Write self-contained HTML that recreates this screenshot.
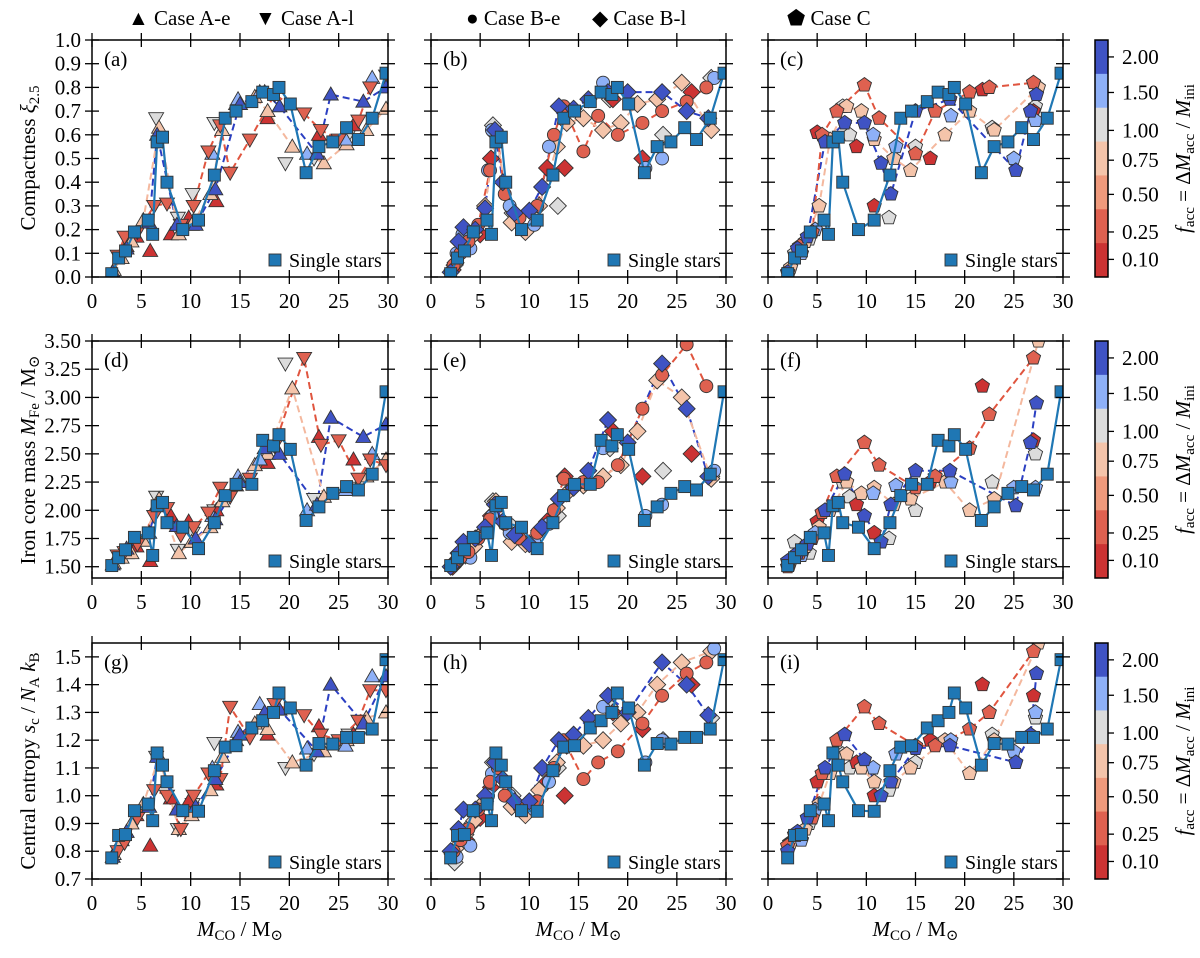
<!DOCTYPE html>
<html><head><meta charset="utf-8">
<style>
html,body{margin:0;padding:0;background:#fff;}
svg, svg text{font-family:"Liberation Serif","Times New Roman","DejaVu Serif",serif;}
</style></head>
<body>
<svg id="fig" width="1200" height="953" viewBox="0 0 1200 953" xmlns="http://www.w3.org/2000/svg" font-family="Liberation Serif, serif">
<g id="root" font-family="Liberation Serif, serif"></g>
</svg>
<script>
// ---------- data ----------
const singleX = [2.0,2.7,3.4,4.3,5.7,6.15,6.6,7.15,7.6,9.2,10.8,12.4,13.5,14.6,16.2,17.3,18.4,18.95,20.1,21.7,23.0,24.4,25.8,27.0,28.4,29.8];
const singleXi = [0.014,0.08,0.11,0.19,0.24,0.18,0.57,0.59,0.40,0.20,0.24,0.43,0.67,0.70,0.74,0.78,0.77,0.80,0.73,0.44,0.55,0.57,0.63,0.58,0.67,0.86];
const singleFe = [1.51,1.58,1.65,1.76,1.80,1.60,2.04,2.07,1.89,1.85,1.66,1.89,2.13,2.23,2.23,2.62,2.57,2.67,2.54,1.91,2.03,2.15,2.21,2.18,2.32,3.05];
const singleS = [0.776,0.857,0.86,0.946,0.97,0.91,1.154,1.11,1.05,0.946,0.944,1.09,1.175,1.18,1.244,1.27,1.30,1.37,1.316,1.11,1.188,1.186,1.21,1.21,1.24,1.49];

// Column A (triangles)
const aBlueX = [2.1,3.5,5.8,6.6,8.6,10.5,12.5,15.0,17.5,19.0,22.8,24.2,27.5,29.8];
const aBlueXi = [0.02,0.12,0.23,0.60,0.22,0.22,0.37,0.73,0.78,0.72,0.52,0.77,0.74,0.80];
const aBlueFe = [1.52,1.66,1.80,2.05,1.86,1.75,1.92,2.25,2.55,2.50,2.05,2.82,2.65,2.76];
const aBlueS = [0.78,0.87,0.96,1.14,0.95,0.96,1.06,1.22,1.30,1.31,1.16,1.40,1.26,1.43];
const aRedX = [2.6,3.3,4.6,6.3,7.6,9.0,10.3,11.8,13.0,14.0,16.0,18.5,21.5,23.2,25.0,27.0,28.2,29.8];
const aRedXi = [0.09,0.17,0.19,0.30,0.31,0.22,0.30,0.53,0.64,0.44,0.58,0.77,0.69,0.62,0.58,0.66,0.80,0.85];
const aRedFe = [1.60,1.63,1.70,1.95,2.02,1.78,1.85,1.98,2.20,2.12,2.28,2.57,3.35,2.58,2.62,2.28,2.45,2.40];
const aRedS = [0.80,0.83,0.92,1.02,1.00,0.88,1.00,1.08,1.06,1.32,1.21,1.33,1.29,1.22,1.20,1.27,1.38,1.38];
const aPeachX = [2.2,3.0,4.0,5.2,6.8,8.8,10.1,12.0,13.2,14.6,16.5,17.8,20.3,23.5,25.8,27.8,29.8];
const aPeachXi = [0.03,0.08,0.15,0.24,0.63,0.18,0.22,0.35,0.62,0.73,0.76,0.70,0.55,0.48,0.56,0.62,0.71];
const aPeachFe = [1.53,1.58,1.62,1.73,2.10,1.62,1.72,1.85,2.08,2.22,2.40,2.50,3.08,2.12,2.18,2.30,2.45];
const aPeachS = [0.79,0.84,0.90,0.97,1.14,0.88,0.93,1.02,1.14,1.20,1.26,1.24,1.12,1.16,1.20,1.28,1.30];
const aGrayX = [6.5,8.7,10.2,12.4,19.6,22.5,26.0];
const aGrayXi = [0.67,0.25,0.35,0.65,0.48,0.50,0.60];
const aGrayFe = [2.12,1.65,1.80,2.00,3.30,2.10,2.20];
const aGrayS = [1.14,0.88,0.97,1.19,1.10,1.15,1.22];
const aDredX = [3.5,4.5,5.9,8.0,9.8,12.6,17.8,23.0,26.5];
const aDredXi = [0.13,0.17,0.11,0.18,0.25,0.32,0.67,0.60,0.64];
const aDredFe = [1.62,1.68,1.55,1.95,1.90,2.00,2.42,2.65,2.45];
const aDredS = [0.87,0.93,0.82,0.99,0.98,1.04,1.22,1.25,1.22];
const aLblueX = [12.2,14.8,17.0,21.8,25.7,28.4];
const aLblueXi = [0.52,0.75,0.78,0.52,0.58,0.84];
const aLblueFe = [1.95,2.30,2.45,2.00,2.18,2.50];
const aLblueS = [1.10,1.23,1.33,1.17,1.18,1.43];

// Column B (circles, diamonds)
const bBlueX = [2.0,2.8,3.3,4.5,5.5,6.5,7.3,8.5,10.0,11.3,13.0,14.5,16.0,18.0,20.0,23.5,26.0,28.2];
const bBlueXi = [0.02,0.15,0.21,0.20,0.29,0.62,0.40,0.27,0.28,0.38,0.72,0.71,0.75,0.78,0.78,0.78,0.70,0.67];
const bBlueFe = [1.50,1.62,1.72,1.75,1.85,2.05,1.90,1.78,1.70,1.85,2.10,2.20,2.35,2.80,2.60,3.30,2.90,2.30];
const bBlueS = [0.80,0.88,0.95,0.95,1.00,1.12,1.06,0.98,0.98,1.10,1.20,1.22,1.28,1.36,1.30,1.48,1.40,1.29];
const bRedX = [2.3,3.0,3.8,4.8,6.0,6.8,7.5,9.0,10.8,12.5,13.5,15.5,17.0,19.0,21.5,23.5,26.0,28.0];
const bRedXi = [0.05,0.10,0.15,0.22,0.45,0.58,0.35,0.25,0.30,0.60,0.72,0.53,0.68,0.60,0.65,0.70,0.74,0.80];
const bRedFe = [1.52,1.58,1.63,1.75,1.92,2.05,1.88,1.75,1.80,2.00,2.28,2.25,2.25,2.40,2.90,3.20,3.47,3.10];
const bRedS = [0.80,0.84,0.88,0.95,1.05,1.10,1.00,0.96,0.98,1.10,1.20,1.06,1.12,1.16,1.26,1.36,1.44,1.48];
const bPeachX = [2.5,3.5,4.4,5.5,6.6,8.2,9.6,11.0,12.8,13.8,15.5,17.5,19.3,21.0,23.0,25.5,28.5];
const bPeachXi = [0.06,0.12,0.18,0.30,0.60,0.23,0.19,0.30,0.55,0.65,0.67,0.62,0.65,0.73,0.75,0.82,0.62];
const bPeachFe = [1.55,1.60,1.68,1.82,2.08,1.72,1.70,1.82,2.02,2.15,2.22,2.30,2.40,2.70,3.15,3.00,2.28];
const bPeachS = [0.81,0.86,0.91,0.98,1.12,0.96,0.93,1.02,1.12,1.18,1.18,1.20,1.26,1.30,1.40,1.48,1.52];
const bLblueX = [2.6,3.2,4.0,5.8,6.2,8.0,10.5,12.0,17.5,21.8,23.5,28.8];
const bLblueXi = [0.10,0.18,0.12,0.45,0.62,0.30,0.22,0.55,0.82,0.46,0.50,0.84];
const bLblueFe = [1.55,1.62,1.58,1.85,1.95,1.80,1.72,1.88,2.55,1.95,2.05,2.35];
const bLblueS = [0.78,0.86,0.82,1.00,1.08,1.00,0.95,1.05,1.32,1.12,1.20,1.53];
const bDredX = [2.2,3.6,5.0,6.1,11.8,13.6,18.5,21.5,26.5];
const bDredXi = [0.03,0.15,0.18,0.50,0.46,0.46,0.75,0.50,0.78];
const bDredFe = [1.50,1.62,1.78,1.95,1.90,2.30,2.70,2.30,2.50];
const bDredS = [0.79,0.84,0.92,1.03,1.05,1.00,1.30,1.24,1.40];
const bGrayX = [2.4,4.2,6.3,8.3,12.9,18.2,23.6,28.5];
const bGrayXi = [0.05,0.18,0.64,0.27,0.30,0.75,0.60,0.84];
const bGrayFe = [1.52,1.66,2.08,1.85,1.95,2.55,2.35,2.30];
const bGrayS = [0.76,0.90,1.12,1.00,1.10,1.32,1.20,1.28];

// Column C (pentagons)
const cBlueX = [2.0,3.0,4.0,5.8,7.8,9.8,11.5,12.5,15.0,18.5,25.2,26.7,27.3];
const cBlueXi = [0.02,0.12,0.17,0.57,0.65,0.65,0.48,0.35,0.70,0.75,0.45,0.70,0.77];
const cBlueFe = [1.55,1.62,1.70,2.00,2.32,1.95,1.72,2.05,2.35,2.35,2.04,2.60,2.95];
const cBlueS = [0.80,0.87,0.92,1.10,1.22,1.13,1.00,1.05,1.17,1.18,1.12,1.22,1.44];
const cRedX = [2.0,3.2,4.5,5.5,7.0,9.8,11.3,15.0,17.0,20.5,22.5,27.0];
const cRedXi = [0.02,0.13,0.19,0.60,0.70,0.81,0.67,0.52,0.70,0.78,0.80,0.82];
const cRedFe = [1.50,1.62,1.75,1.98,2.30,2.60,2.40,2.20,2.30,2.55,2.85,3.35];
const cRedS = [0.82,0.86,0.92,1.08,1.20,1.32,1.26,1.18,1.18,1.24,1.30,1.52];
const cPeachX = [2.3,3.8,5.2,6.3,8.0,9.5,10.8,12.8,14.5,18.0,20.5,23.0,27.5];
const cPeachXi = [0.04,0.15,0.30,0.58,0.72,0.70,0.58,0.50,0.45,0.60,0.70,0.62,0.80];
const cPeachFe = [1.55,1.68,1.85,2.00,2.25,2.15,2.20,2.05,2.10,2.25,2.00,2.10,3.50];
const cPeachS = [0.83,0.88,0.97,1.08,1.15,1.10,1.05,1.05,1.10,1.20,1.08,1.20,1.55];
const cGrayX = [2.7,4.2,7.6,8.3,12.3,15.0,22.8,27.2];
const cGrayXi = [0.10,0.16,0.72,0.60,0.25,0.55,0.63,0.72];
const cGrayFe = [1.72,1.62,2.25,2.12,1.75,2.00,2.25,2.50];
const cGrayS = [0.86,0.90,1.15,1.10,1.02,1.12,1.22,1.28];
const cLblueX = [3.4,4.8,10.7,13.0,18.6,25.0,27.2];
const cLblueXi = [0.10,0.20,0.60,0.55,0.68,0.50,0.66];
const cLblueFe = [1.60,1.80,2.15,2.22,2.25,2.20,2.20];
const cLblueS = [0.84,0.95,1.10,1.15,1.20,1.16,1.30];
const cDredX = [2.2,5.0,9.0,10.8,16.5,21.8,27.0];
const cDredXi = [0.03,0.61,0.55,0.30,0.50,0.79,0.70];
const cDredFe = [1.52,1.90,2.05,1.80,2.25,3.10,2.62];
const cDredS = [0.83,1.05,1.12,1.00,1.20,1.40,1.36];

const xTicks = [0,5,10,15,20,25,30];
const xiTicks = ["0.0","0.1","0.2","0.3","0.4","0.5","0.6","0.7","0.8","0.9","1.0"];
const feTicks = ["1.50","1.75","2.00","2.25","2.50","2.75","3.00","3.25","3.50"];
const sTicks = ["0.7","0.8","0.9","1.0","1.1","1.2","1.3","1.4","1.5"];
const cbLabels = ["2.00","1.50","1.00","0.75","0.50","0.25","0.10"];
const cbColors = ["#3f53c4","#8eb0f7","#dcdcdc","#f4c4aa","#ef9a7c","#df6150","#cc3333"];

// ---------- drawing ----------
const NS="http://www.w3.org/2000/svg";
const root=document.getElementById('root');
const FF="Liberation Serif, Times New Roman, serif";
function mk(tag,attrs,parent){const e=document.createElementNS(NS,tag);for(const k in attrs)e.setAttribute(k,attrs[k]);if(tag==='text')e.setAttribute('font-family',FF);(parent||root).appendChild(e);return e;}
const C={blue:"#3f53c4",lblue:"#8eb0f7",gray:"#dcdcdc",peach:"#f4c4aa",salmon:"#ef9a7c",red:"#df6150",dred:"#cc3333"};
const LINE={blue:"#2b3fc2",red:"#e0553f",peach:"#f4b89e"};
const colX=[[92,388],[431,726],[768,1063]];
const rowY=[[40,277],[341,578],[643,879]];
const yLims=[[0,1.0],[1.4,3.5],[0.7,1.55]];
const xLim=[0,30];

function marker(g,shape,cx,cy,fill){
  let e;
  if(shape==='sq'){e=mk('rect',{x:cx-6,y:cy-6,width:12,height:12},g);}
  else if(shape==='up'){e=mk('polygon',{points:`${cx},${cy-7.5} ${cx+7.5},${cy+5.5} ${cx-7.5},${cy+5.5}`},g);}
  else if(shape==='dn'){e=mk('polygon',{points:`${cx},${cy+7.5} ${cx+7.5},${cy-5.5} ${cx-7.5},${cy-5.5}`},g);}
  else if(shape==='ci'){e=mk('circle',{cx:cx,cy:cy,r:6.5},g);}
  else if(shape==='di'){e=mk('polygon',{points:`${cx},${cy-8.5} ${cx+8.5},${cy} ${cx},${cy+8.5} ${cx-8.5},${cy}`},g);}
  else {let p=[];for(let i=0;i<5;i++){const a=-Math.PI/2+i*2*Math.PI/5;p.push((cx+7.5*Math.cos(a)).toFixed(1)+','+(cy+7.5*Math.sin(a)).toFixed(1));}e=mk('polygon',{points:p.join(' ')},g);}
  e.setAttribute('fill',fill);e.setAttribute('stroke','#333');e.setAttribute('stroke-width','0.9');
  
  
}

const panels=[
 {letter:'a',c:0,r:0,ys:'Xi',pre:'a',shapes:{Blue:'up',Red:'dn',Peach:'up',Gray:'dn',Dred:'up',Lblue:'up'}},
 {letter:'b',c:1,r:0,ys:'Xi',pre:'b',shapes:{Blue:'di',Red:'ci',Peach:'di',Gray:'di',Dred:'di',Lblue:'ci'}},
 {letter:'c',c:2,r:0,ys:'Xi',pre:'c'},
 {letter:'d',c:0,r:1,ys:'Fe',pre:'a',shapes:{Blue:'up',Red:'dn',Peach:'up',Gray:'dn',Dred:'up',Lblue:'up'}},
 {letter:'e',c:1,r:1,ys:'Fe',pre:'b',shapes:{Blue:'di',Red:'ci',Peach:'di',Gray:'di',Dred:'di',Lblue:'ci'}},
 {letter:'f',c:2,r:1,ys:'Fe',pre:'c'},
 {letter:'g',c:0,r:2,ys:'S',pre:'a',shapes:{Blue:'up',Red:'dn',Peach:'up',Gray:'dn',Dred:'up',Lblue:'up'}},
 {letter:'h',c:1,r:2,ys:'S',pre:'b',shapes:{Blue:'di',Red:'ci',Peach:'di',Gray:'di',Dred:'di',Lblue:'ci'}},
 {letter:'i',c:2,r:2,ys:'S',pre:'c'}
];
const DATA={
 aBlueX,aBlueXi,aBlueFe,aBlueS,aRedX,aRedXi,aRedFe,aRedS,aPeachX,aPeachXi,aPeachFe,aPeachS,aGrayX,aGrayXi,aGrayFe,aGrayS,aDredX,aDredXi,aDredFe,aDredS,aLblueX,aLblueXi,aLblueFe,aLblueS,
 bBlueX,bBlueXi,bBlueFe,bBlueS,bRedX,bRedXi,bRedFe,bRedS,bPeachX,bPeachXi,bPeachFe,bPeachS,bGrayX,bGrayXi,bGrayFe,bGrayS,bDredX,bDredXi,bDredFe,bDredS,bLblueX,bLblueXi,bLblueFe,bLblueS,
 cBlueX,cBlueXi,cBlueFe,cBlueS,cRedX,cRedXi,cRedFe,cRedS,cPeachX,cPeachXi,cPeachFe,cPeachS,cGrayX,cGrayXi,cGrayFe,cGrayS,cDredX,cDredXi,cDredFe,cDredS,cLblueX,cLblueXi,cLblueFe,cLblueS};
const SING={Xi:singleXi,Fe:singleFe,S:singleS};
const tickSets=[xiTicks,feTicks,sTicks];

panels.forEach(p=>{
  const [x0,x1]=colX[p.c],[y0,y1]=rowY[p.r],[ylo,yhi]=yLims[p.r];
  const sx=v=>x0+(v-xLim[0])/(xLim[1]-xLim[0])*(x1-x0);
  const sy=v=>y1-(v-ylo)/(yhi-ylo)*(y1-y0);
  const g=mk('g',{});
  
  
  mk('defs',{},g).innerHTML=`<clipPath id="clip${p.letter}"><rect x="${x0}" y="${y0}" width="${x1-x0}" height="${y1-y0}"/></clipPath>`;
  const plot=mk('g',{'clip-path':`url(#clip${p.letter})`},g);
  const shapes=p.shapes||{Blue:'pe',Red:'pe',Peach:'pe',Gray:'pe',Dred:'pe',Lblue:'pe'};
  [['Blue','blue'],['Red','red'],['Peach','peach']].forEach(([k,lc])=>{
    const xs=DATA[p.pre+k+'X'],ys=DATA[p.pre+k+p.ys];
    const l=mk('polyline',{points:xs.map((x,i)=>sx(x).toFixed(1)+','+sy(ys[i]).toFixed(1)).join(' '),fill:'none',stroke:LINE[lc],'stroke-width':2,'stroke-dasharray':'7,4'},plot);
    
    
  });
  [['Gray','gray'],['Dred','dred'],['Peach','peach'],['Lblue','lblue'],['Red','red'],['Blue','blue']].forEach(([k,c])=>{
    const xs=DATA[p.pre+k+'X'],ys=DATA[p.pre+k+p.ys];
    xs.forEach((x,i)=>marker(plot,shapes[k],sx(x),sy(ys[i]),C[c]));
  });
  const sv=SING[p.ys];
  const sl=mk('polyline',{points:singleX.map((x,i)=>sx(x).toFixed(1)+','+sy(sv[i]).toFixed(1)).join(' '),fill:'none',stroke:'#1f77b4','stroke-width':2.2},plot);
  
  
  singleX.forEach((x,i)=>marker(plot,'sq',sx(x),sy(sv[i]),'#1f77b4'));
  const fr=mk('rect',{x:x0,y:y0,width:x1-x0,height:y1-y0,fill:'none',stroke:'#000','stroke-width':1.5},g);
  
  
  xTicks.forEach(t=>{
    const X=sx(t);
    mk('line',{x1:X,x2:X,y1:y1-7,y2:y1+7,stroke:'#000','stroke-width':1.3},g);
    mk('line',{x1:X,x2:X,y1:y0-7,y2:y0+7,stroke:'#000','stroke-width':1.3},g);
    const tx=mk('text',{x:X,y:y1+31,'text-anchor':'middle','font-size':21},g);
    tx.textContent=t;
    
    
  });
  tickSets[p.r].forEach(t=>{
    const v=parseFloat(t);const Y=sy(v);
    mk('line',{x1:x0-7,x2:x0+7,y1:Y,y2:Y,stroke:'#000','stroke-width':1.3},g);
    mk('line',{x1:x1-7,x2:x1+7,y1:Y,y2:Y,stroke:'#000','stroke-width':1.3},g);
    if(p.c===0){
      const ty=mk('text',{x:x0-11,y:Y+7,'text-anchor':'end','font-size':21},g);
      ty.textContent=t;
      
      
    }
  });
  const pl=mk('text',{x:x0+12,y:y0+26,'font-size':21},g);
  pl.textContent='('+p.letter+')';
  
  
  const lg=mk('g',{},g);
  
  
  marker(lg,'sq',x0+183,y1-17,'#1f77b4');
  const lt=mk('text',{x:x0+197,y:y1-10,'font-size':20},lg);
  lt.textContent='Single stars';
  if(p.r===2){
    const xl=mk('text',{x:(x0+x1)/2,y:936,'text-anchor':'middle','font-size':21},g);
    xl.innerHTML='<tspan font-style="italic">M</tspan><tspan font-size="15" dy="4">CO</tspan><tspan dy="-4"> / M</tspan><tspan font-size="15" dy="4">⊙</tspan>';
    
    
  }
});

const yTitles=[
 ['Compactness <tspan font-style="italic">ξ</tspan><tspan font-size="15" dy="4">2.5</tspan>',158],
 ['Iron core mass <tspan font-style="italic">M</tspan><tspan font-size="15" dy="4">Fe</tspan><tspan dy="-4"> / M</tspan><tspan font-size="15" dy="4">⊙</tspan>',460],
 ['Central entropy <tspan font-style="italic">s</tspan><tspan font-size="15" dy="4">c</tspan><tspan dy="-4"> / </tspan><tspan font-style="italic">N</tspan><tspan font-size="15" dy="4">A</tspan><tspan dy="-4"> </tspan><tspan font-style="italic">k</tspan><tspan font-size="15" dy="4">B</tspan>',761]];
yTitles.forEach(([h,cy])=>{
  const t=mk('text',{x:0,y:0,'text-anchor':'middle','font-size':21,transform:`translate(35,${cy}) rotate(-90)`});
  t.innerHTML=h;
  
  
});

rowY.forEach(([y0,y1],ri)=>{
  const g=mk('g',{});
  
  
  const h=(y1-y0)/7;
  cbColors.forEach((c,i)=>mk('rect',{x:1095,y:y0+i*h,width:13,height:h+0.5,fill:c},g));
  mk('rect',{x:1095,y:y0,width:13,height:y1-y0,fill:'none',stroke:'#000','stroke-width':1.5},g);
  const pos=[0.5,1.55,2.67,3.55,4.56,5.67,6.48];
  cbLabels.forEach((l,i)=>{
    const Y=y0+pos[i]*h;
    mk('line',{x1:1108,x2:1114,y1:Y,y2:Y,stroke:'#000','stroke-width':1.3},g);
    const t=mk('text',{x:1122,y:Y+7,'font-size':21},g);
    t.textContent=l;
  });
  const t=mk('text',{x:0,y:0,'text-anchor':'middle','font-size':21,transform:`translate(1190,${(y0+y1)/2}) rotate(-90)`},g);
  t.innerHTML='<tspan font-style="italic">f</tspan><tspan font-size="15" dy="4">acc</tspan><tspan dy="-4"> = Δ</tspan><tspan font-style="italic">M</tspan><tspan font-size="15" dy="4">acc</tspan><tspan dy="-4"> / </tspan><tspan font-style="italic">M</tspan><tspan font-size="15" dy="4">ini</tspan>';
  
  
});

[['▲ Case A-e',128],['▼ Case A-l',255],['● Case B-e',466],['◆ Case B-l',592],['⬟ Case C',787]].forEach(([s,x])=>{
  const t=mk('text',{x:x,y:25,'font-size':21});
  t.textContent=s;
  
  
});
</script>
</body></html>
